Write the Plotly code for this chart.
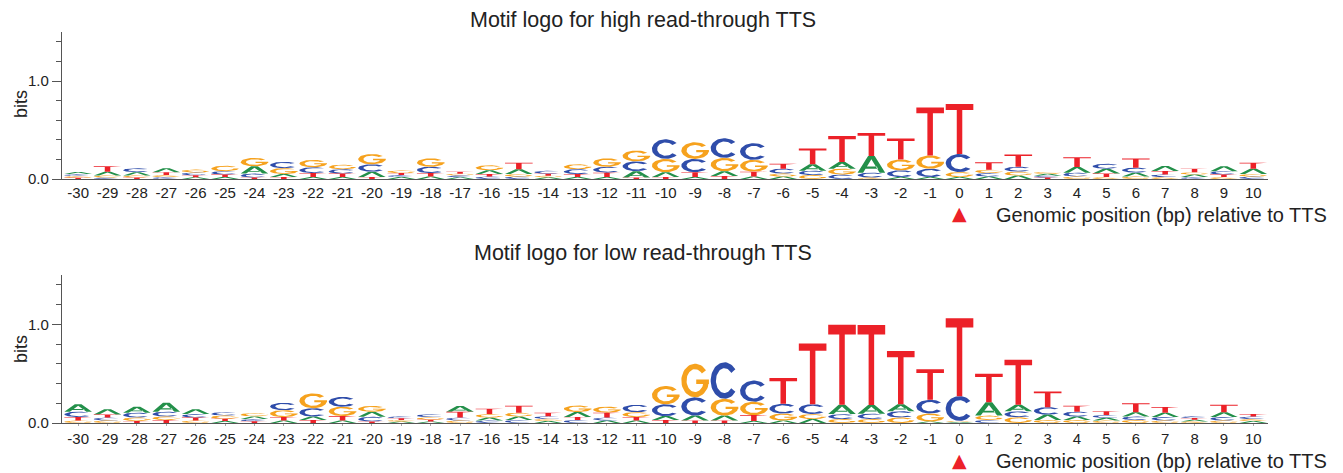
import numpy as np
import plotly.graph_objects as go

# ---------------- data ----------------
POSITIONS = list(range(-30, 11))
TICK_LABELS = [str(p) for p in POSITIONS]

# information content per letter (bits), high read-through TTS
HIGH_A = [.022, .04, .035, .04, .018, .02, .075, .03, .02, .02, .055, .02, .025, .018, .04, .05, .017, .02, .02, .065,
          .05, .02, .05, .025, .025, .065, .068, .17, .02, .02, .02,
          .025, .035, .02, .058, .05, .04, .05, .025, .05, .055]
HIGH_C = [.02, .015, .04, .02, .028, .035, .04, .065, .06, .045, .075, .02, .065, .018, .025, .025, .03, .05, .06, .10,
          .20, .135, .20, .17, .05, .045, .045, .05, .068, .085, .185,
          .035, .05, .018, .04, .05, .05, .027, .02, .035, .025]
HIGH_G = [.018, .02, .02, .02, .03, .055, .085, .06, .075, .046, .105, .027, .085, .018, .05, .025, .017, .05, .085, .11,
          .135, .17, .135, .12, .03, .04, .06, .015, .11, .135, .05,
          .035, .04, .02, .025, .02, .025, .02, .025, .02, .025]
HIGH_T = [.012, .055, .015, .03, .02, .025, .015, .02, .04, .035, .02, .02, .035, .02, .025, .065, .02, .03, .045, .015,
          .02, .05, .03, .05, .05, .16, .265, .235, .215, .49, .51,
          .075, .125, .015, .10, .035, .095, .035, .035, .025, .06]

# low read-through TTS
LOW_A = [.075, .055, .06, .09, .05, .02, .027, .025, .035, .025, .05, .015, .015, .06, .03, .035, .02, .05, .025, .025,
         .04, .05, .05, .02, .025, .04, .095, .088, .07, .015, .01,
         .135, .068, .055, .035, .027, .045, .045, .017, .05, .02]
LOW_C = [.055, .03, .05, .05, .035, .035, .022, .075, .085, .10, .048, .02, .03, .03, .025, .03, .027, .03, .03, .075,
         .12, .185, .37, .215, .10, .10, .05, .055, .065, .14, .25,
         .03, .06, .075, .05, .028, .035, .035, .02, .035, .025]
LOW_G = [.025, .025, .035, .035, .025, .033, .033, .07, .15, .095, .06, .015, .025, .025, .035, .04, .022, .065, .06, .05,
         .185, .34, .17, .135, .07, .05, .04, .04, .055, .08, .012,
         .045, .058, .03, .03, .025, .03, .025, .015, .025, .02]
LOW_T = [.035, .03, .02, .03, .03, .022, .018, .035, .03, .045, .015, .018, .018, .058, .055, .07, .035, .032, .05, .035,
         .03, .025, .025, .06, .26, .615, .81, .81, .54, .31, .79,
         .29, .455, .16, .06, .04, .09, .057, .018, .075, .025]

PANELS = [
    dict(title="Motif logo for high read-through TTS", A=HIGH_A, C=HIGH_C, G=HIGH_G, T=HIGH_T),
    dict(title="Motif logo for low read-through TTS", A=LOW_A, C=LOW_C, G=LOW_G, T=LOW_T),
]
TTS_POSITION = 0

COLORS = {"A": "#23904A", "C": "#2F4DAA", "G": "#F6A21E", "T": "#EC2128"}
FONT = "Liberation Sans, Arial, sans-serif"


# ---------------- glyph outlines (unit box) ----------------
def arc(cx, cy, rx, ry, a0, a1, n=48):
    t = np.radians(np.linspace(a0, a1, n))
    return list(zip(cx + rx * np.cos(t), cy + ry * np.sin(t)))


def glyph(letter):
    if letter == "T":
        return [[(0, 1), (1, 1), (1, 0.88), (0.6, 0.88), (0.6, 0), (0.4, 0), (0.4, 0.88), (0, 0.88)]]
    if letter == "C":
        outer = arc(0.5, 0.5, 0.5, 0.5, 38, 322)
        inner = arc(0.5, 0.5, 0.31, 0.34, 322, 38)
        return [outer + inner]
    if letter == "G":
        outer = arc(0.5, 0.5, 0.5, 0.5, 38, 358)
        inner = arc(0.5, 0.5, 0.31, 0.34, 358, 38)
        bar = [(0.54, 0.40), (1.0, 0.40), (1.0, 0.53), (0.54, 0.53)]
        return [outer + inner, bar]
    if letter == "A":
        left = [(0, 0), (0.2, 0), (0.5, 0.8), (0.5, 1), (0.38, 1)]
        right = [(1, 0), (0.8, 0), (0.5, 0.8), (0.5, 1), (0.62, 1)]
        bar = [(0.26, 0.24), (0.74, 0.24), (0.69, 0.37), (0.31, 0.37)]
        return [left, right, bar]
    return []


GLYPHS = {k: glyph(k) for k in "ACGT"}
WIDTH = 0.94

W, H = 1343, 473
x_dom = [62 / W, 1268 / W]
doms = [[1 - 179 / H, 1 - 32 / H], [1 - 423 / H, 1 - 275 / H]]
title_y = [20, 253]
marker_y = [213, 460]
caption_y = [215, 461]
bits_y = [104, 349]

fig = go.Figure()

for pi, panel in enumerate(PANELS):
    xa = "x" if pi == 0 else "x2"
    ya = "y" if pi == 0 else "y2"
    polys = {k: ([], []) for k in "ACGT"}
    for i, pos in enumerate(POSITIONS):
        heights = sorted(((panel[k][i], k) for k in "ACGT"), key=lambda t: t[0])
        base = 0.0
        for h, k in heights:
            for poly in GLYPHS[k]:
                xs, ys = polys[k]
                for gx, gy in poly:
                    xs.append(pos - WIDTH / 2 + gx * WIDTH)
                    ys.append(base + gy * h)
                xs.append(xs[-len(poly)])
                ys.append(ys[-len(poly)])
                xs.append(None)
                ys.append(None)
            base += h
    for k in "ACGT":
        xs, ys = polys[k]
        fig.add_trace(go.Scatter(x=xs, y=ys, mode="lines", fill="toself", fillcolor=COLORS[k],
                                 line=dict(width=0, color=COLORS[k]), hoverinfo="skip",
                                 showlegend=False, xaxis=xa, yaxis=ya))
    # TTS marker (triangle) and axis caption
    fig.add_annotation(text="▲", xref=xa, yref="paper", x=TTS_POSITION,
                       y=1 - marker_y[pi] / H, xanchor="center", yanchor="middle",
                       showarrow=False, font=dict(family="DejaVu Sans", size=19, color="#EC2128"))
    fig.add_annotation(text="Genomic position (bp) relative to TTS", xref=xa, yref="paper",
                       x=TTS_POSITION + 1.2, y=1 - caption_y[pi] / H, xanchor="left",
                       yanchor="middle", showarrow=False, borderpad=0,
                       font=dict(family=FONT, size=20, color="#222"))
    # y-axis title
    fig.add_annotation(text="bits", xref="paper", yref="paper", x=21 / W, y=1 - bits_y[pi] / H,
                       xanchor="center", yanchor="middle", textangle=-90, showarrow=False,
                       font=dict(family=FONT, size=18, color="#222"))

layout = dict(width=W, height=H, margin=dict(l=0, r=0, t=0, b=0, autoexpand=False),
              paper_bgcolor="white", plot_bgcolor="white", showlegend=False,
              font=dict(family=FONT, color="#222"))
for pi in range(2):
    sfx = "" if pi == 0 else "2"
    layout["xaxis" + sfx] = dict(domain=x_dom, range=[-30.55, 10.5], anchor="y" + sfx,
                                 automargin=False,
                                 tickmode="array", tickvals=POSITIONS, ticktext=TICK_LABELS,
                                 ticks="" if pi == 0 else "outside", ticklen=2, tickcolor="#aaa",
                                 showline=True, linecolor="#555", linewidth=1.3,
                                 showgrid=False, zeroline=False,
                                 tickfont=dict(family=FONT, size=15, color="#222"))
    layout["yaxis" + sfx] = dict(domain=doms[pi], range=[0, 1.5], anchor="x" + sfx,
                                 automargin=False,
                                 tickmode="array", tickvals=[0, 1], ticktext=["0.0", "1.0"],
                                 ticks="outside", ticklen=9, tickcolor="#555",
                                 minor=dict(tickmode="array", tickvals=[0.2, 0.4, 0.6, 0.8, 1.2, 1.4],
                                            ticks="outside", ticklen=5, tickcolor="#555"),
                                 showline=True, linecolor="#555", linewidth=1.3,
                                 showgrid=False, zeroline=False,
                                 tickfont=dict(family=FONT, size=15, color="#222"))
fig.update_layout(**layout)

for pi, panel in enumerate(PANELS):
    fig.add_annotation(text=panel["title"], xref="paper", yref="paper",
                       x=643 / W, y=1 - title_y[pi] / H, xanchor="center", yanchor="middle",
                       showarrow=False, font=dict(family=FONT, size=21.5, color="#222"))

fig.write_html("out.html")
